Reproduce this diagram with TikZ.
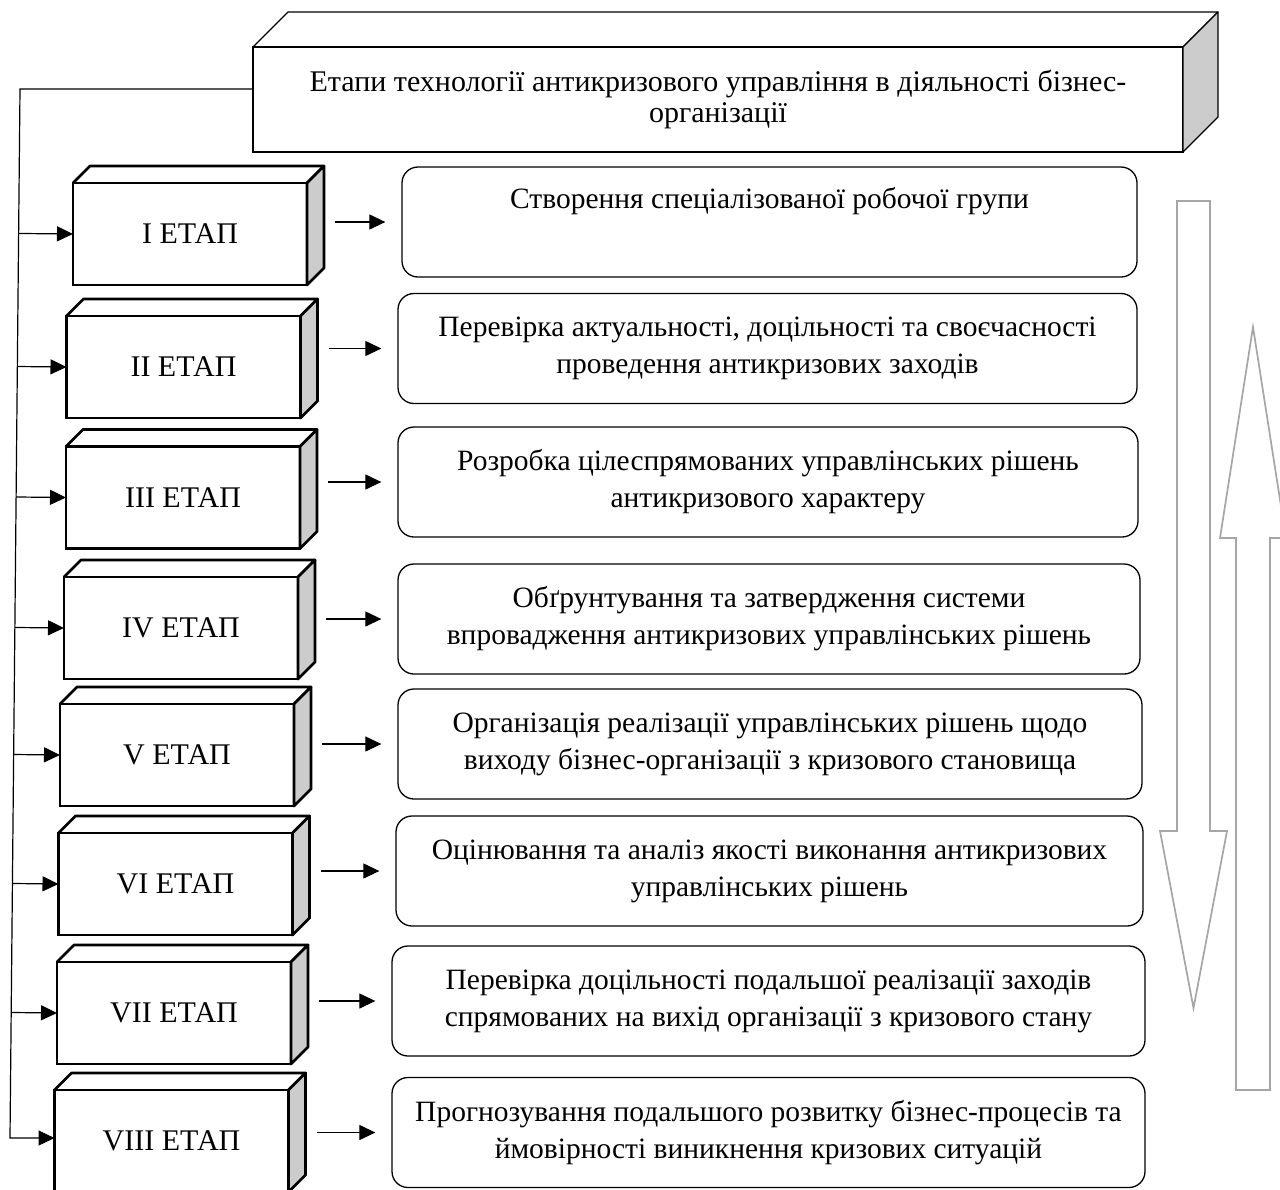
\documentclass[tikz,border=0pt]{standalone}
\usepackage{fontspec}
\setmainfont{Liberation Serif}
\usetikzlibrary{arrows.meta, calc}

\tikzset{
  hdrbox/.style={draw, line width=1.2pt, fill=white, minimum width=930pt, minimum height=105pt,
    align=center, outer sep=0pt, font=\fontsize{30}{31}\selectfont},
  etap/.style={draw, line width=2.7pt, fill=white, minimum width=234pt, minimum height=102pt,
    inner sep=0pt, outer sep=0pt, font=\fontsize{30}{34}\selectfont},
  krok/.style={draw, line width=1.3pt, rounded corners=16pt, minimum height=110pt,
    align=center, inner sep=0pt, font=\fontsize{29.5}{37}\selectfont},
  arr/.style={-{Triangle[length=16pt,width=15pt]}, line width=1.2pt},
  hollow/.style={draw=black!35, line width=1.7pt, line join=miter},
}

\begin{document}
\begin{tikzpicture}[x=1pt, y=-1pt]
            \useasboundingbox (0,0) rectangle (1280,1189);

            % Header
            \node[hdrbox] (hdr) at (718,99.5) {Етапи технології антикризового управління в діяльності бізнес-\\організації};
            \draw[line width=1.2pt, line join=round] (hdr.north west) -- ++(35,-35) -- ([shift={(35,-35)}]hdr.north east) -- (hdr.north east);
            \filldraw[line width=1.2pt, line join=round, fill=black!20] (hdr.north east) -- ++(35,-35) -- ([shift={(35,-35)}]hdr.south east) -- (hdr.south east) -- cycle;

            % Stages
            \node[etap] (e1) at (190,234) {I ЕТАП};
            \node[etap] (e2) at (183.5,367) {II ЕТАП};
            \node[etap] (e3) at (183,497.5) {III ЕТАП};
            \node[etap] (e4) at (181,628) {IV ЕТАП};
            \node[etap] (e5) at (177,755) {V ЕТАП};
            \node[etap] (e6) at (175.5,884) {VI ЕТАП};
            \node[etap] (e7) at (174,1013) {VII ЕТАП};
            \node[etap] (e8) at (171.5,1141) {VIII ЕТАП};
            \foreach \n in {e1,e2,e3,e4,e5,e6,e7,e8} {
              \draw[line width=2.7pt, line join=round] (\n.north west) -- ++(17,-17) -- ([shift={(17,-17)}]\n.north east) -- (\n.north east);
              \filldraw[line width=2.7pt, line join=round, fill=black!20] (\n.north east) -- ++(17,-17) -- ([shift={(17,-17)}]\n.south east) -- (\n.south east) -- cycle;
            }

            % Steps
            \node[krok, minimum width=735pt] (c1) at (769.5,222) {Створення спеціалізованої робочої групи\\ \strut};
            \node[krok, minimum width=739pt] (c2) at (767.5,348.5) {Перевірка актуальності, доцільності та своєчасності\\проведення антикризових заходів};
            \node[krok, minimum width=740pt] (c3) at (768,482) {Розробка цілеспрямованих управлінських рішень\\антикризового характеру};
            \node[krok, minimum width=742pt] (c4) at (769,619) {Обґрунтування та затвердження системи\\впровадження антикризових управлінських рішень};
            \node[krok, minimum width=744pt] (c5) at (770,744) {Організація реалізації управлінських рішень щодо\\виходу бізнес-організації з кризового становища};
            \node[krok, minimum width=747pt] (c6) at (769.5,871) {Оцінювання та аналіз якості виконання антикризових\\управлінських рішень};
            \node[krok, minimum width=753pt] (c7) at (768.5,1001) {Перевірка доцільності подальшої реалізації заходів\\спрямованих на вихід організації з кризового стану};
            \node[krok, minimum width=753pt] (c8) at (768.5,1132.5) {Прогнозування подальшого розвитку бізнес-процесів та\\ймовірності виникнення кризових ситуацій};

            % Bus line
            \coordinate (bustop) at (20,89);
            \coordinate (busbot) at (10,1138);
            \draw[arr] (hdr.west |- bustop) -- (bustop) -- (busbot) -- (busbot -| e8.west);
            \foreach \n in {e1,e2,e3,e4,e5,e6,e7}
              \draw[arr] ($(bustop)!(\n.west)!(busbot)$) -- (\n.west);

            % Stage -> step
            \foreach \i in {1,...,8}
              \draw[arr, shorten <=28pt, shorten >=16pt] (e\i.east |- c\i.west) -- (c\i.west);

            % Direction arrows
            \draw[hollow] (1177,201) -- (1210,201) -- (1210,831) -- (1227,831) -- (1193.5,1008) -- (1160,831) -- (1177,831) -- cycle;
            \draw[hollow] (1236,1090) -- (1270,1090) -- (1270,538) -- (1286,538) -- (1253,327) -- (1220,538) -- (1236,538) -- cycle;
        \end{tikzpicture}
\end{document}
